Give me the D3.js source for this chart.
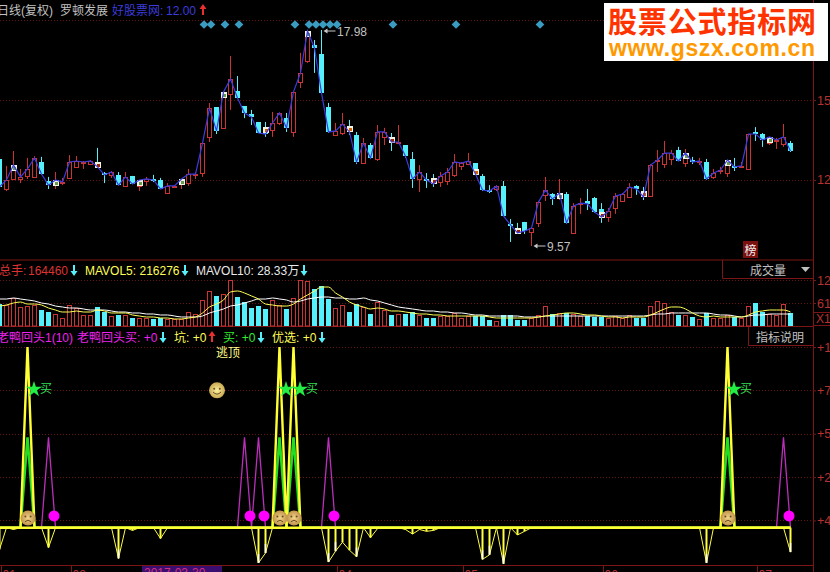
<!DOCTYPE html>
<html><head><meta charset="utf-8">
<script src="https://cdn.jsdelivr.net/npm/d3@7/dist/d3.min.js"></script>
<style>html,body{margin:0;padding:0;background:#000;overflow:hidden}svg{display:block}text{font-family:"Liberation Sans","Noto Sans CJK SC",sans-serif;font-size:12px}</style>
</head><body><svg id="c" width="830" height="572"></svg>
<script>
const opens=[12.96,11.79,12.18,12.18,12.30,12.26,12.84,12.10,11.94,12.02,12.22,12.65,12.80,12.76,12.84,12.41,12.34,12.34,11.91,12.30,11.91,12.10,12.18,12.14,11.63,11.87,11.98,12.02,12.34,12.41,13.82,14.98,14.17,15.49,15.61,15.02,14.71,14.40,14.20,14.09,14.36,14.55,14.01,15.96,16.77,17.40,17.05,14.98,13.89,13.97,14.24,13.89,12.80,13.50,12.96,13.82,13.82,13.58,13.50,12.96,12.18,12.18,12.22,12.06,12.10,12.34,12.69,12.76,12.80,12.30,11.75,11.79,11.91,10.43,10.27,10.51,10.11,10.47,11.56,11.59,11.44,11.59,10.08,11.21,11.32,11.44,11.01,10.70,11.05,11.32,11.48,11.91,11.71,11.52,12.88,12.76,12.96,13.31,12.80,12.92,12.84,12.84,12.26,12.49,12.41,12.69,12.65,12.57,14.01,13.93,13.58,13.66,13.54,13.58];
const closes=[11.87,12.14,12.72,12.26,12.57,13.00,12.37,11.94,12.14,12.06,12.84,12.88,12.84,12.88,12.65,12.34,12.45,11.94,12.26,11.98,12.14,12.18,12.14,11.79,11.91,11.91,12.18,12.37,12.37,13.58,14.94,14.05,15.57,16.07,15.33,14.75,14.59,13.97,13.93,14.36,14.75,14.17,15.57,16.31,17.94,17.28,15.53,14.01,14.05,14.32,14.01,12.84,13.58,13.00,14.01,14.01,13.62,13.62,13.07,12.18,12.45,12.14,11.98,12.30,12.45,12.84,12.80,12.88,12.37,11.75,11.71,11.91,10.74,10.39,10.08,10.15,10.27,11.28,11.75,11.40,11.63,10.47,11.13,11.24,11.21,10.89,10.70,10.93,11.52,11.59,11.87,11.79,11.48,12.72,12.92,13.19,13.19,12.88,13.19,12.84,12.88,12.18,12.41,12.53,12.92,12.65,12.69,13.93,13.93,13.70,13.82,13.70,13.82,13.27];
const highs=[12.96,12.69,13.27,12.57,13.00,13.07,13.04,12.26,12.45,12.22,13.11,13.07,12.88,12.92,13.39,12.45,12.49,12.45,12.45,12.30,12.14,12.26,12.34,12.22,12.02,11.94,12.18,12.57,12.45,13.58,15.14,14.98,15.57,16.97,16.19,15.02,14.87,14.40,14.40,14.79,14.75,14.75,15.57,17.09,17.94,17.59,17.98,15.14,14.36,14.75,14.48,14.01,13.78,13.58,14.28,14.17,13.97,14.28,13.50,13.23,12.72,12.41,12.37,12.45,12.61,13.15,12.84,13.19,12.80,12.37,11.94,11.94,12.10,10.62,10.47,10.51,10.31,11.32,12.26,11.63,12.18,11.67,11.24,11.44,11.79,11.48,11.24,11.05,11.63,11.63,12.02,11.94,11.87,12.76,13.31,13.66,13.31,13.43,13.35,13.04,13.00,12.96,12.57,12.65,12.92,13.00,12.84,13.93,14.20,13.97,13.82,13.78,14.32,13.66];
const lows=[11.56,11.71,12.14,12.02,12.18,12.26,12.34,11.79,11.79,11.94,12.22,12.65,12.57,12.72,12.65,12.02,12.22,11.94,11.87,11.98,11.71,11.91,12.06,11.79,11.63,11.83,11.79,11.91,12.18,12.26,13.62,13.93,14.17,14.87,15.33,14.55,14.28,13.97,13.82,13.82,14.28,14.01,13.82,15.72,16.70,16.31,15.53,13.97,13.89,13.89,13.89,12.76,12.80,12.96,12.88,13.50,13.27,13.58,13.00,11.83,11.67,11.83,11.87,11.87,11.94,12.26,12.53,12.72,12.34,11.71,11.63,11.71,10.74,9.73,10.04,10.04,9.57,10.31,11.32,11.17,11.36,10.43,10.08,10.82,10.97,10.86,10.47,10.51,10.82,11.32,11.48,11.56,11.36,11.52,12.45,12.61,12.72,12.88,12.65,12.76,12.72,12.14,12.18,12.37,12.26,12.49,12.61,12.57,13.66,13.43,13.50,13.35,13.43,13.23];
const volumes=[58.3,55.7,74.3,50.4,53,55.7,42.4,37.1,31.8,21.2,55.7,47.7,29.2,29.2,50.4,37.1,26.5,29.2,29.2,21.2,21.2,21.2,18.6,21.2,18.6,18.6,18.6,37.1,31.8,69,92.8,79.6,84.9,122,76.9,63.6,47.7,53,45.1,69,55.7,45.1,74.3,122,119.3,98.1,106.1,71.6,47.7,55.7,37.1,58.3,50.4,31.8,63.6,42.4,29.2,31.8,31.8,37.1,29.2,21.2,21.2,26.5,26.5,34.5,21.2,26.5,26.5,26.5,15.9,13.3,29.2,29.2,15.9,15.9,21.2,29.2,53,31.8,34.5,34.5,31.8,26.5,26.5,23.9,23.9,21.2,26.5,21.2,29.2,21.2,21.2,53,66.3,61,37.1,29.2,29.2,23.9,18.6,34.5,21.2,21.2,29.2,23.9,21.2,53,61,37.1,31.8,29.2,58.3,34.5];
const mavol5=[53,55.7,61,63.6,58.3,58.3,55.7,47.7,42.4,37.1,37.1,39.8,37.1,37.1,42.4,39.8,34.5,34.5,34.5,29.2,26.5,23.9,23.9,21.2,21.2,18.6,18.6,21.2,23.9,34.5,50.4,58.3,69,90.2,92.8,87.5,79.6,71.6,58.3,55.7,53,53,58.3,71.6,82.2,92.8,103.4,103.4,87.5,76.9,63.6,55.7,50.4,45.1,47.7,45.1,39.8,39.8,37.1,34.5,31.8,31.8,29.2,29.2,26.5,26.5,26.5,26.5,26.5,26.5,23.9,21.2,21.2,21.2,21.2,21.2,21.2,23.9,26.5,29.2,31.8,34.5,34.5,31.8,29.2,29.2,26.5,23.9,23.9,21.2,23.9,23.9,23.9,29.2,37.1,45.1,50.4,50.4,45.1,34.5,26.5,23.9,26.5,23.9,23.9,23.9,23.9,29.2,37.1,39.8,42.4,42.4,42.4,37.1];
const mavol10=[71.6,71.6,74.3,71.6,69,66.3,61,58.3,53,50.4,47.7,47.7,45.1,42.4,42.4,42.4,39.8,37.1,37.1,34.5,34.5,31.8,31.8,29.2,29.2,26.5,23.9,23.9,23.9,26.5,34.5,39.8,45.1,53,55.7,61,66.3,71.6,71.6,74.3,71.6,69,63.6,66.3,71.6,74.3,76.9,76.9,74.3,74.3,71.6,71.6,74.3,69,66.3,61,55.7,50.4,47.7,45.1,42.4,39.8,39.8,37.1,37.1,34.5,34.5,31.8,29.2,29.2,26.5,26.5,26.5,26.5,26.5,23.9,23.9,23.9,26.5,26.5,26.5,26.5,26.5,26.5,26.5,26.5,26.5,26.5,26.5,26.5,26.5,26.5,26.5,29.2,31.8,31.8,34.5,34.5,34.5,34.5,34.5,34.5,31.8,29.2,29.2,26.5,23.9,26.5,29.2,29.2,31.8,31.8,31.8,31.8];
const diamondIdx=[29,30,32,34,42,44,45,46,47,48,56,65,77];
const markIdx=[2,8,14,20,26,32,38,44,50,56,62,68,74,80,86,92,98,104,110];
const markPrice=[12.72,12.14,12.84,12.14,12.18,15.57,14.20,17.94,14.24,13.82,12.22,12.57,10.27,11.63,10.89,11.71,13.19,12.92,13.82];
const markTone=["#6a9a50","#6a9a50","#a02000","#6a9a50","#6a9a50","#6a9a50","#d06000","#6a9a50","#d06000","#a02000","#a02000","#d06000","#a02000","#6a9a50","#a02000","#d06000","#6a9a50","#6a9a50","#6a9a50"];
const buyIdx=[4,40,42,104];
const buyTop=100, buyMid=50;
const duckIdx=[7,35,37,47,112];
const duckPeak=50, duckDotValue=6.5, faceValue=5.4, smileIdx=31, smileValue=76;
const dipIdx=[0,2,7,17,19,23,37,38,47,48,49,50,51,53,54,58,59,60,61,62,69,70,72,74,75,101,113];
const dipVal=[-12,-1,-11,-17,-1.5,-6,-19.5,-14,-19,-13,-8,-12.5,-16,-5.5,-0.5,-1,-3.5,-1,-2,-1.5,-17.5,-15,-20,-4,-2,-19.5,-13.5];
const dateIdx=[0,10,48,66,86,108];
const dateLab=["01","02","04","05","06","07"];
const priceGrid=[18.37,15.25,12.14], priceLab=["","15","12"];
const volGrid=[122,61], volLab=["12","61"];
const indGrid=[100,76,52,28,4], indLab=["+1","+7","+5","+2","+4"];

const RED="#cc3333",CYAN="#55f0fb",GRID="#641414",FRAME="#7c1616",AX="#b53232";
const n=opens.length;
const svg=d3.select("#c");
const x=d3.scaleLinear().domain([0,113]).range([0,791]);
const yP=d3.scaleLinear().domain([9.57,17.98]).range([246,30]);
const yV=d3.scaleLinear().domain([0,122]).range([326,280]);
const yI=d3.scaleLinear().domain([0,100]).range([527.7,347]);
const px=i=>x(i)-0.5;
svg.append("rect").attr("width",830).attr("height",572).attr("fill","#000");
const defs=svg.append("defs");
const g1=defs.append("radialGradient").attr("id","sad");
g1.append("stop").attr("offset","0%").attr("stop-color","#f0d38a");
g1.append("stop").attr("offset","100%").attr("stop-color","#c2934c");
const g2=defs.append("radialGradient").attr("id","smile");
g2.append("stop").attr("offset","0%").attr("stop-color","#fbf0a0");
g2.append("stop").attr("offset","100%").attr("stop-color","#c9a850");

function grid(scale,vals){svg.append("g").selectAll("line").data(vals).join("line")
 .attr("x1",0).attr("x2",813).attr("y1",d=>Math.round(scale(d))+.5).attr("y2",d=>Math.round(scale(d))+.5)
 .attr("stroke",GRID).attr("stroke-dasharray","1 2");}
grid(yP,priceGrid);grid(yV,volGrid);grid(yI,indGrid);

// frame
[[0,260,813,260],[0,326.5,813,326.5],[0,565.5,813,565.5],[813.5,0,813.5,572],[722.5,260,722.5,278.5],[722.5,278.5,813,278.5],[748.5,327,748.5,345.5],[748.5,345.5,813,345.5]]
.forEach(l=>svg.append("line").attr("x1",l[0]).attr("y1",l[1]).attr("x2",l[2]).attr("y2",l[3]).attr("stroke",FRAME));

// right axes
function rAxis(scale,vals,labs){
 const a=d3.axisRight(scale).tickValues(vals).tickSize(2).tickPadding(1).tickFormat((d,i)=>labs[i]);
 const g=svg.append("g").attr("transform","translate(814,0)").call(a);
 g.select(".domain").remove();g.selectAll("line").attr("stroke",FRAME);
 g.selectAll("text").attr("fill",AX).style("font-size","12.5px");
}
rAxis(yP,priceGrid,priceLab);rAxis(yV,volGrid,volLab);rAxis(yI,indGrid,indLab);
svg.append("rect").attr("x",813.5).attr("y",312.5).attr("width",20).attr("height",13).attr("fill","none").attr("stroke",FRAME);
svg.append("text").attr("x",816).attr("y",323).attr("fill",AX).text("X1");

// candles
const cg=svg.append("g");
d3.range(n).forEach(i=>{
 const up=closes[i]>=opens[i],col=up?RED:CYAN;
 const t=Math.round(yP(Math.max(opens[i],closes[i]))),b=Math.round(yP(Math.min(opens[i],closes[i])));
 cg.append("rect").attr("x",x(i)-1).attr("width",1).attr("y",yP(highs[i])).attr("height",yP(lows[i])-yP(highs[i])).attr("fill",col);
 if(up) cg.append("rect").attr("x",x(i)-2.5).attr("y",t+.5).attr("width",4).attr("height",Math.max(b-t,1)).attr("fill","#000").attr("stroke",col);
 else cg.append("rect").attr("x",x(i)-3).attr("y",t).attr("width",5).attr("height",Math.max(b-t,2)).attr("fill",col);
});
// white markers
markIdx.forEach((i,k)=>{
 const y0=Math.round(yP(markPrice[k]));
 cg.append("rect").attr("x",x(i)-3).attr("y",y0).attr("width",6).attr("height",6).attr("fill","#f4f4e4");
 cg.append("rect").attr("x",x(i)-1).attr("y",y0+2).attr("width",3).attr("height",3).attr("fill",markTone[k]);
});
// close line
svg.append("path").attr("d",d3.line().x((d,i)=>px(i)).y(d=>yP(d))(closes)).attr("fill","none").attr("stroke","#3c3ce0").attr("stroke-width",1.2);
// diamonds
svg.append("g").selectAll("path").data(diamondIdx).join("path").attr("d",d3.symbol(d3.symbolSquare,38))
 .attr("transform",d=>`translate(${x(d)+1},24.5) rotate(45)`).attr("fill","#3a9cc0");

// hi/lo labels
function hilo(i,price,tx){
 const a=x(i)+1.5,yy=yP(price)+ (price>15?1:0);
 svg.append("path").attr("d",`M${a} ${yy}L${a+4} ${yy-2.5}V${yy-.5}H${a+12}V${yy+.5}H${a+4}V${yy+2.5}Z`).attr("fill","#c8c8c8");
 svg.append("text").attr("x",a+13.5).attr("y",yy+4.5).attr("fill","#c0c0c0").text(tx);
}
hilo(46,17.98,"17.98");hilo(76,9.57,"9.57");

// 榜
svg.append("rect").attr("x",743).attr("y",241).attr("width",15).attr("height",17).attr("fill","#7a1010");
svg.append("text").attr("x",750.5).attr("y",254.5).attr("text-anchor","middle").attr("fill","#f0f0f0").text("榜");

// volume
const vg=svg.append("g");
d3.range(n).forEach(i=>{
 const up=closes[i]>=opens[i],t=Math.round(yV(volumes[i]));
 if(up) vg.append("rect").attr("x",x(i)-2.5).attr("y",t+.5).attr("width",4).attr("height",325.5-t).attr("fill","#000").attr("stroke",RED);
 else vg.append("rect").attr("x",x(i)-3).attr("y",t).attr("width",5).attr("height",326-t).attr("fill",CYAN);
});
const lineV=d3.line().x((d,i)=>px(i)).y(d=>yV(d)).curve(d3.curveMonotoneX);
svg.append("path").attr("d",lineV(mavol10)).attr("fill","none").attr("stroke","#ffffff").attr("stroke-width",1);
svg.append("path").attr("d",lineV(mavol5)).attr("fill","none").attr("stroke","#ffff55").attr("stroke-width",1);

// indicator
const spike=(idx,v)=>{const a=new Array(n).fill(0);idx.forEach((i,k)=>a[i]=Array.isArray(v)?v[k]:v);return a;};
const lineI=d3.line().x((d,i)=>px(i)).y(d=>yI(d));
svg.append("path").attr("d",lineI(spike(duckIdx,duckPeak))).attr("fill","none").attr("stroke","#bb30bb").attr("stroke-width",1.3);
const dips=spike(dipIdx,dipVal);
svg.append("path").attr("d",lineI(dips)).attr("fill","none").attr("stroke","#ffff44").attr("stroke-width",1);
dipIdx.forEach((i,k)=>{
 svg.append("line").attr("x1",px(i)).attr("x2",px(i)).attr("y1",yI(0)).attr("y2",yI(dipVal[k])).attr("stroke","#ffff44").attr("stroke-width",2);
 if(dipVal[k]<=-13) svg.append("line").attr("x1",px(i)).attr("x2",px(i)).attr("y1",yI(dipVal[k]+5)).attr("y2",yI(dipVal[k])).attr("stroke","#ffffff").attr("stroke-width",1.5);
});
svg.append("path").attr("d",lineI(spike(buyIdx,buyMid))).attr("fill","none").attr("stroke","#22dd22").attr("stroke-width",2.6);
svg.append("path").attr("d",lineI(spike(buyIdx,buyTop))).attr("fill","none").attr("stroke","#ffff33").attr("stroke-width",2.4);
svg.append("path").attr("d",lineI(new Array(n).fill(0))).attr("fill","none").attr("stroke","#ffff33").attr("stroke-width",2.4);

// magenta dots
svg.append("g").selectAll("circle").data(duckIdx).join("circle").attr("cx",d=>x(d)+5).attr("cy",yI(duckDotValue)).attr("r",5.5).attr("fill","#ff00ff");
// faces
function face(cx,cy,r,grad,smile){
 const g=svg.append("g").attr("transform",`translate(${cx},${cy})`);
 g.append("circle").attr("r",r).attr("fill",`url(#${grad})`);
 g.append("circle").attr("cx",-r*.35).attr("cy",-r*.2).attr("r",1).attr("fill","#6b5020");
 g.append("circle").attr("cx",r*.35).attr("cy",-r*.2).attr("r",1).attr("fill","#6b5020");
 g.append("path").attr("d",smile?`M${-r*.5} ${r*.2}Q0 ${r*.75} ${r*.5} ${r*.2}`:`M${-r*.4} ${r*.5}Q0 ${r*.1} ${r*.4} ${r*.5}`).attr("fill","none").attr("stroke","#6b5020");
}
buyIdx.forEach(i=>face(x(i),yI(faceValue),7.5,"sad",false));
face(x(smileIdx),yI(smileValue),8,"smile",true);
svg.append("text").attr("x",228).attr("y",yI(smileValue)-33).attr("text-anchor","middle").attr("fill","#ffff88").text("逃顶");
// stars
svg.append("g").selectAll("path").data(buyIdx).join("path").attr("d",d3.symbol(d3.symbolStar,80))
 .attr("transform",d=>`translate(${x(d)+6},${yI(76)-1})`).attr("fill","#22ee44");
[4,42,104].forEach(i=>svg.append("text").attr("x",x(i)+18).attr("y",yI(76)+3).attr("text-anchor","middle").attr("fill","#33dd55").text("买"));

// dates
svg.append("rect").attr("x",142).attr("y",566).attr("width",80).attr("height",6).attr("fill","#3c0d70");
svg.append("text").attr("x",144).attr("y",577).attr("fill","#d03080").text("2017-03-30");
const dg=svg.append("g").attr("transform","translate(0,566)").call(
 d3.axisBottom(d3.scaleLinear().domain([0,113]).range([1,792])).tickValues(dateIdx).tickSize(6).tickPadding(0).tickFormat((d,i)=>dateLab[i]));
dg.select(".domain").remove();dg.selectAll("line").attr("stroke",FRAME);
dg.selectAll("text").attr("fill",AX).attr("text-anchor","start").attr("x",1).attr("y",4).attr("dy","0.71em");

// legends
function T(xx,yy,col,s,anchor){svg.append("text").attr("x",xx).attr("y",yy).attr("fill",col).attr("text-anchor",anchor||"start").text(s);}
function arrow(xx,yy,col,up){
 const s=up?-1:1;
 svg.append("path").attr("d",`M${xx-1} ${yy-5*s}H${xx+1}V${yy+1*s}H${xx+3.5}L${xx} ${yy+6*s}L${xx-3.5} ${yy+1*s}H${xx-1}Z`).attr("fill",col);
}
T(-3,14.5,"#c0c0c0","日线(复权)");T(60,14.5,"#c0c0c0","罗顿发展");
T(112,14.5,"#3c3cd8","好股票网:");T(166,14.5,"#3c3cd8","12.00");arrow(203,10,"#e83030",true);
T(-1,274.5,"#dd3333","总手:");T(28,274.5,"#dd3333","164460");arrow(74,270,CYAN,false);
T(85,274.5,"#ffff55","MAVOL5: 216276");arrow(185,270,CYAN,false);
T(196,274.5,"#e8e8e8","MAVOL10: 28.33万");arrow(304,270,CYAN,false);
T(-3,341.5,"#ee22ee","老鸭回头1(10)");T(77,341.5,"#ee22ee","老鸭回头买: +0");arrow(163,337,CYAN,false);
T(174,341.5,"#ffff55","坑: +0");arrow(212,337,"#e83030",true);
T(223,341.5,"#33ee33","买: +0");arrow(261,337,CYAN,false);
T(272,341.5,"#ffff55","优选: +0");arrow(322,337,CYAN,false);
T(768,274.5,"#c0c0c0","成交量","middle");
svg.append("path").attr("d","M801 267h9l-4.5 5z").attr("fill","#c0c0c0");
T(780,341.5,"#c0c0c0","指标说明","middle");

// watermark
svg.append("rect").attr("x",604).attr("y",3).attr("width",224).attr("height",58).attr("fill","#ffffff");
svg.append("text").attr("x",712).attr("y",33).attr("text-anchor","middle").attr("fill","#ff3300").style("font-size","29px").style("font-weight","700").attr("textLength",208).text("股票公式指标网");
svg.append("text").attr("x",712).attr("y",56).attr("text-anchor","middle").attr("fill","#ff9900").style("font-size","23px").style("font-weight","700").attr("textLength",206).text("www.gszx.com.cn");
</script></body></html>
